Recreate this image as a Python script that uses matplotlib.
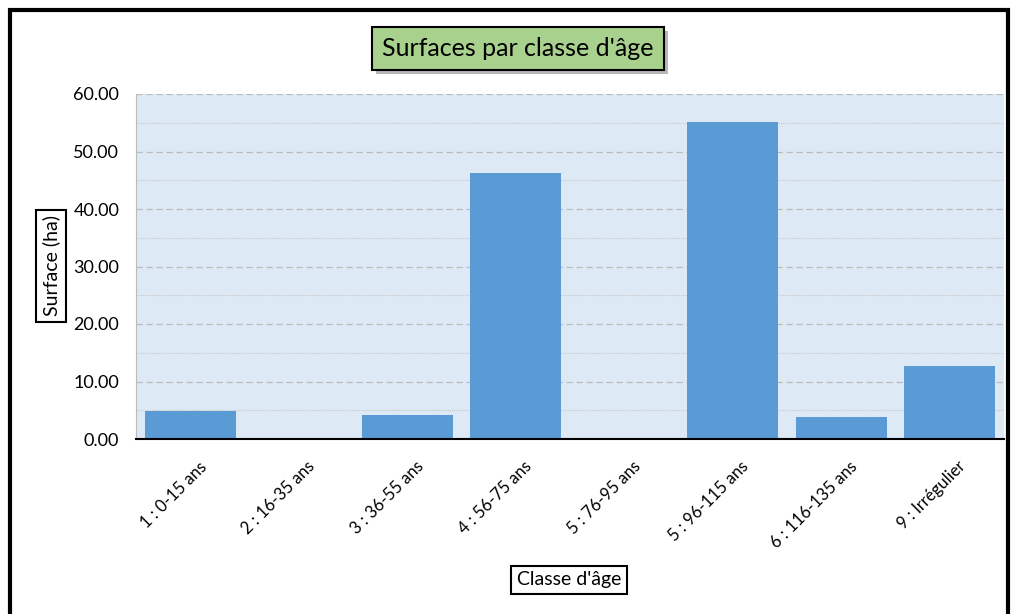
import matplotlib.pyplot as plt
from matplotlib.patches import Rectangle
import matplotlib.patheffects as pe
import matplotlib.transforms as mtransforms

plt.rcParams['font.family'] = ['Lato', 'DejaVu Sans']

categories = ["1 : 0-15 ans", "2 : 16-35 ans", "3 : 36-55 ans", "4 : 56-75 ans",
              "5 : 76-95 ans", "5 : 96-115 ans", "6 : 116-135 ans", "9 : Irrégulier"]
surfaces = [4.9, 0.0, 4.2, 46.3, 0.0, 55.1, 3.8, 12.7]
y_ticks = [0, 10, 20, 30, 40, 50, 60]

fig = plt.figure(figsize=(10.16, 6.14), dpi=100)
ax = fig.add_axes([136 / 1016, 1 - 439 / 614, 868 / 1016, 345 / 614])

# black frame around the figure
fig.patches.append(Rectangle((10 / 1016, -0.01), 998 / 1016, 1 - 10 / 614 + 0.01,
                             transform=fig.transFigure, fill=False,
                             edgecolor='black', linewidth=3))

ax.set_facecolor('#DDE9F5')
x = range(len(categories))
ax.bar(x, surfaces, width=0.84, color='#5B9BD5', zorder=3)

ax.set_xlim(-0.5, len(categories) - 0.5)
ax.set_ylim(0, 60)
ax.set_yticks(y_ticks)
ax.set_yticklabels([f"{v:.2f}" for v in y_ticks], fontsize=13)
ax.set_yticks([5, 15, 25, 35, 45, 55], minor=True)
ax.tick_params(axis='y', which='both', length=0, pad=12)
ax.grid(axis='y', which='major', color='#BBBBBB', linestyle=(0, (5, 3)), linewidth=0.9, zorder=1)
ax.grid(axis='y', which='minor', color='#C8C8C8', linestyle=(0, (1, 1)), linewidth=0.8, zorder=1)

ax.set_xticks(list(x))
ax.set_xticklabels(categories, rotation=45, ha='right', rotation_mode='anchor', fontsize=12)
ax.tick_params(axis='x', length=0, pad=14)
shift = mtransforms.ScaledTranslation(8 / 100, 0, fig.dpi_scale_trans)
for lab in ax.get_xticklabels():
    lab.set_transform(lab.get_transform() + shift)

for side in ['top', 'right']:
    ax.spines[side].set_visible(False)
ax.spines['left'].set_color('#BBBBBB')
ax.spines['left'].set_linewidth(0.8)
ax.spines['bottom'].set_color('black')
ax.spines['bottom'].set_linewidth(1.5)
ax.spines['bottom'].set_zorder(4)

title = fig.text(518 / 1016, 1 - 48 / 614, "Surfaces par classe d'âge", ha='center', va='center',
                 fontsize=18,
                 bbox=dict(boxstyle='square,pad=0.4', facecolor='#A9D18E', edgecolor='black', linewidth=1.5))
title.get_bbox_patch().set_path_effects([pe.SimplePatchShadow(offset=(3, -3), shadow_rgbFace='#888888', alpha=0.6),
                                         pe.Normal()])
fig.text(51 / 1016, 1 - 266 / 614, "Surface (ha)", ha='center', va='center', rotation=90,
         fontsize=14,
         bbox=dict(boxstyle='square,pad=0.3', facecolor='white', edgecolor='black', linewidth=1.5))
fig.text(569 / 1016, 1 - 580 / 614, "Classe d'âge", ha='center', va='center',
         fontsize=14,
         bbox=dict(boxstyle='square,pad=0.3', facecolor='white', edgecolor='black', linewidth=1.5))

fig.savefig("out.png", dpi=100)
